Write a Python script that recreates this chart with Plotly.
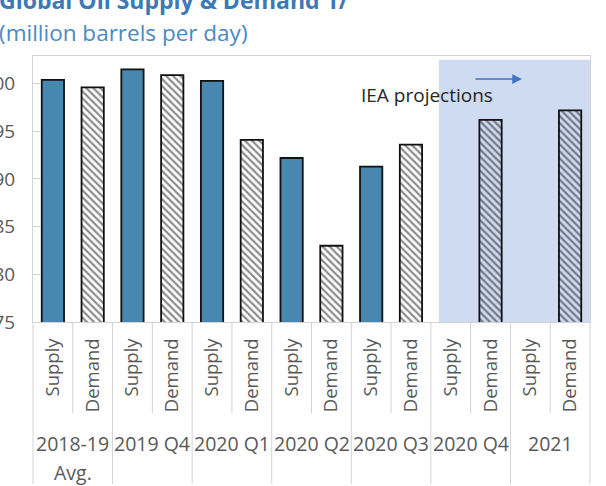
import plotly.graph_objects as go

# Global oil supply and demand, million barrels per day
periods = ["2018-19", "2019 Q4", "2020 Q1", "2020 Q2", "2020 Q3", "2020 Q4", "2021"]
period_sublabels = ["Avg.", "", "", "", "", "", ""]
supply = [100.4, 101.5, 100.3, 92.2, 91.3, None, None]
demand = [99.6, 100.9, 94.1, 83.0, 93.6, 96.2, 97.2]
bar_labels = ["Supply", "Demand"]
y_ticks = [75, 80, 85, 90, 95, 100]

W, H = 606, 486
PLOT_TOP, PLOT_BOTTOM = 56, 322
PLOT_LEFT, PLOT_RIGHT = 33, 590
FONT = "Open Sans"
GREY_TXT = "#595959"
SEP = "#d3d3d3"

n = len(periods)
x_supply = [2 * i for i in range(n)]
x_demand = [2 * i + 1 for i in range(n)]
x_range = [-0.5, 2 * n - 0.5]


def ypap(py):
    return (PLOT_BOTTOM - py) / (PLOT_BOTTOM - PLOT_TOP)


def xpap(v):
    return (v - x_range[0]) / (x_range[1] - x_range[0])


def xpap_px(px):
    return (px - PLOT_LEFT) / (PLOT_RIGHT - PLOT_LEFT)


fig = go.Figure()
fig.add_trace(go.Bar(
    x=x_supply, y=supply, name="Supply", width=0.56,
    marker=dict(color="#4787b0", line=dict(color="#111111", width=1.8)),
))
fig.add_trace(go.Bar(
    x=x_demand, y=demand, name="Demand", width=0.56,
    marker=dict(color="rgba(0,0,0,0)", line=dict(color="#111111", width=1.8),
                pattern=dict(shape="\\", fgcolor="#1a1a1a", bgcolor="rgba(0,0,0,0)",
                             size=5, solidity=0.45, fillmode="overlay")),
))

shapes = []
# shaded projection window
shapes.append(dict(type="rect", xref="x", yref="y", x0=9.7, x1=2 * n - 0.5, y0=75, y1=102.5,
                   fillcolor="#cfdbf1", line=dict(width=0), layer="below"))
# separators under the axis
for k in range(2 * n + 1):
    xp = xpap(k - 0.5)
    major = (k % 2 == 0)
    y1 = ypap(484) if major else ypap(413)
    shapes.append(dict(type="line", xref="paper", yref="paper", x0=xp, x1=xp, y0=0, y1=y1,
                       line=dict(color=SEP, width=1)))

annotations = []
for i, (p, s) in enumerate(zip(periods, period_sublabels)):
    annotations.append(dict(x=2 * i + 0.5, xref="x", y=ypap(443), yref="paper", text=p,
                            showarrow=False, xanchor="center", yanchor="middle",
                            font=dict(family=FONT, size=19.5, color=GREY_TXT)))
    if s:
        annotations.append(dict(x=2 * i + 0.5, xref="x", y=ypap(472), yref="paper", text=s,
                                showarrow=False, xanchor="center", yanchor="middle",
                                font=dict(family=FONT, size=19.5, color=GREY_TXT)))

annotations.append(dict(x=xpap_px(359), xref="paper",
                        y=ypap(95), yref="paper", text="IEA projections", showarrow=False,
                        xanchor="left", yanchor="middle",
                        font=dict(family=FONT, size=19, color="#262626")))
annotations.append(dict(x=xpap_px(522), xref="paper",
                        y=ypap(79), yref="paper", ax=-48, ay=0, text="", showarrow=True,
                        arrowhead=2, arrowsize=1.3, arrowwidth=1.5, arrowcolor="#4472c4"))
annotations.append(dict(x=xpap_px(-3), xref="paper",
                        y=ypap(0), yref="paper", text="<b>Global Oil Supply & Demand 1/</b>",
                        showarrow=False, xanchor="left", yanchor="middle",
                        font=dict(family=FONT, size=23, color="#3b7ab6")))
annotations.append(dict(x=xpap_px(-3), xref="paper",
                        y=ypap(33), yref="paper", text="(million barrels per day)",
                        showarrow=False, xanchor="left", yanchor="middle",
                        font=dict(family=FONT, size=22.5, color="#4a8ac3")))

fig.update_layout(
    width=W, height=H,
    margin=dict(l=PLOT_LEFT, r=W - PLOT_RIGHT, t=PLOT_TOP, b=H - PLOT_BOTTOM, pad=0,
                autoexpand=False),
    paper_bgcolor="white", plot_bgcolor="white",
    showlegend=False, barmode="overlay",
    shapes=shapes, annotations=annotations,
    font=dict(family=FONT, color=GREY_TXT),
)
fig.update_xaxes(
    range=x_range, tickmode="array", tickvals=x_supply + x_demand,
    ticktext=[bar_labels[0]] * n + [bar_labels[1]] * n,
    tickangle=-90, ticks="", showgrid=False, zeroline=False, automargin=False,
    showline=True, linecolor=SEP, linewidth=1, mirror=True,
    tickfont=dict(family=FONT, size=18.5, color=GREY_TXT), ticklabelstandoff=8,
)
fig.update_yaxes(
    range=[75, 102.9], tickmode="array", tickvals=y_ticks,
    ticktext=[str(v) for v in y_ticks], automargin=False,
    ticks="inside", ticklen=8, tickcolor=SEP, showgrid=False, zeroline=False,
    showline=True, linecolor=SEP, linewidth=1, mirror=True,
    tickfont=dict(family=FONT, size=19, color=GREY_TXT), ticklabelstandoff=13,
)

fig.write_html("out.html")
